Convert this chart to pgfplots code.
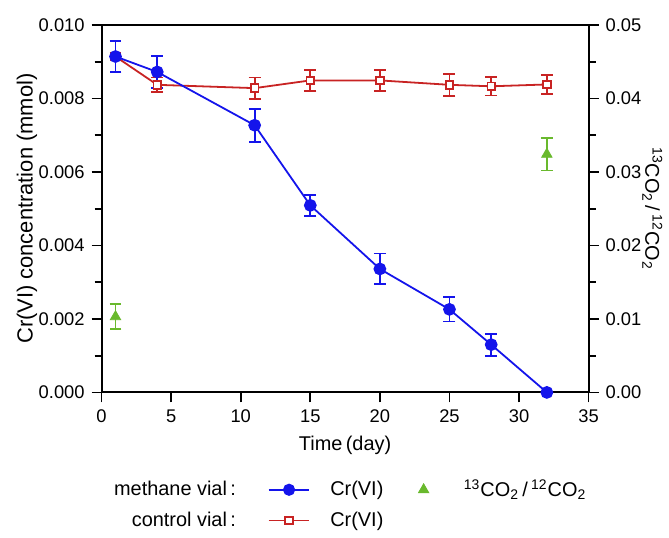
\documentclass[border=0pt]{standalone}
\usepackage{fontspec}
\setmainfont{Liberation Sans}
\usepackage{pgfplots}
\pgfplotsset{compat=1.18}

\definecolor{mblue}{RGB}{20,20,235}
\definecolor{cred}{RGB}{200,35,35}
\definecolor{cgreen}{RGB}{105,185,45}

\pgfplotsset{
  base/.style={
    width=244.5pt, height=184.5pt, scale only axis,
    xmin=0, xmax=35,
    tick align=outside,
    major tick length=5pt, minor tick length=3.5pt,
    axis line style={-, line width=1pt},
    every outer x axis line/.append style={-},
    every outer y axis line/.append style={-},
    every tick/.style={black, line width=0.9pt},
    tick label style={font=\fontsize{9.2}{11}\selectfont},
    /pgf/number format/assume math mode=true,
    scaled y ticks=false,
    clip=false,
  },
  lineimg/.style={legend image code/.code={%
    \draw[mark repeat=2,mark phase=2] plot coordinates {(0pt,0pt) (10.25pt,0pt) (20.5pt,0pt)};}},
}

\begin{document}
\begin{tikzpicture}[font=\fontsize{10}{12}\selectfont]
% left axis: Cr(VI)
\begin{axis}[base,
  axis x line*=bottom, axis y line*=left,
  ymin=0, ymax=0.010,
  xtick={0,5,10,15,20,25,30,35},
  ytick={0,0.002,0.004,0.006,0.008,0.010},
  minor y tick num=1,
  yticklabel style={/pgf/number format/.cd, fixed, fixed zerofill, precision=3},
  xlabel={Time\,(day)},
  xlabel style={at={(axis description cs:0.5,-0.143)}, anchor=center},
  ylabel={Cr(VI) concentration (mmol)},
  ylabel style={at={(axis description cs:-0.153,0.5)}, anchor=center, font=\fontsize{11}{13}\selectfont},
]
\path (rel axis cs:-0.2086,-0.3848) rectangle (rel axis cs:1.1595,1.0678);
% control vial
\addplot[cred, line width=0.9pt, mark=square*, mark size=1.9pt,
  mark options={fill=white, line width=0.9pt},
  error bars/.cd, y dir=both, y explicit,
  error bar style={cred, line width=0.9pt},
  error mark options={rotate=90, mark size=3pt, line width=0.9pt, cred}]
  table[x=x, y=y, y error=e] {
x  y        e
1  0.00914  0.00010
4  0.00837  0.00020
11 0.00828  0.00029
15 0.00849  0.00028
20 0.00849  0.00028
25 0.00837  0.00030
28 0.00833  0.00025
32 0.00838  0.00025
};
% methane vial
\addplot[mblue, line width=0.9pt, mark=*, mark size=2.75pt,
  error bars/.cd, y dir=both, y explicit,
  error bar style={mblue, line width=0.9pt},
  error mark options={rotate=90, mark size=3pt, line width=0.9pt, mblue}]
  table[x=x, y=y, y error=e] {
x  y        e
1  0.00914  0.00043
4  0.00872  0.00044
11 0.00727  0.00045
15 0.00509  0.00029
20 0.00336  0.00042
25 0.00226  0.00033
28 0.00130  0.00030
32 0.00000  0.00000
};
\end{axis}
% right axis: isotope ratio
\begin{axis}[base,
  axis x line*=top, axis y line*=right,
  xtick=\empty,
  ymin=0, ymax=0.05,
  ytick={0,0.01,0.02,0.03,0.04,0.05},
  minor y tick num=1,
  yticklabel style={/pgf/number format/.cd, fixed, fixed zerofill, precision=2},
  ylabel={\textsuperscript{13}CO\textsubscript{2}\,/\,\textsuperscript{12}CO\textsubscript{2}},
  ylabel style={at={(axis description cs:1.131,0.5)}, anchor=center, rotate=180},
  legend style={at={(rel axis cs:-0.040,-0.215)}, anchor=north west,
    draw=none, fill=none, legend columns=3, column sep=8pt, row sep=2pt,
    font=\fontsize{10}{12}\selectfont},
  legend cell align=left,
]
\addlegendimage{empty legend}
\addlegendentry{\makebox[70pt][r]{methane vial\,:\hspace{6pt}}}
\addlegendimage{mblue, line width=0.9pt, mark=*, mark size=2.6pt, lineimg}
\addlegendentry{Cr(VI)}
\addplot[only marks, cgreen, mark=triangle*, mark size=3pt,
  legend image code/.code={\path (0pt,0pt) (20pt,0pt);
    \draw[mark repeat=2,mark phase=2] plot coordinates {(0pt,0pt) (10pt,0pt) (20pt,0pt)};},
  error bars/.cd, y dir=both, y explicit,
  error bar style={cgreen, line width=0.9pt},
  error mark options={rotate=90, mark size=3pt, line width=0.9pt, cgreen}]
  table[x=x, y=y, y error=e] {
x  y       e
1  0.0103  0.0017
32 0.0324  0.0022
};
\addlegendentry{\textsuperscript{13}CO\textsubscript{2}\,/\,\textsuperscript{12}CO\textsubscript{2}}
\addlegendimage{empty legend}
\addlegendentry{\makebox[70pt][r]{control vial\,:\hspace{6pt}}}
\addlegendimage{cred, line width=0.9pt, mark=square*, mark size=1.9pt,
  mark options={fill=white, line width=0.9pt}, lineimg}
\addlegendentry{Cr(VI)}
\end{axis}
\end{tikzpicture}
\end{document}
